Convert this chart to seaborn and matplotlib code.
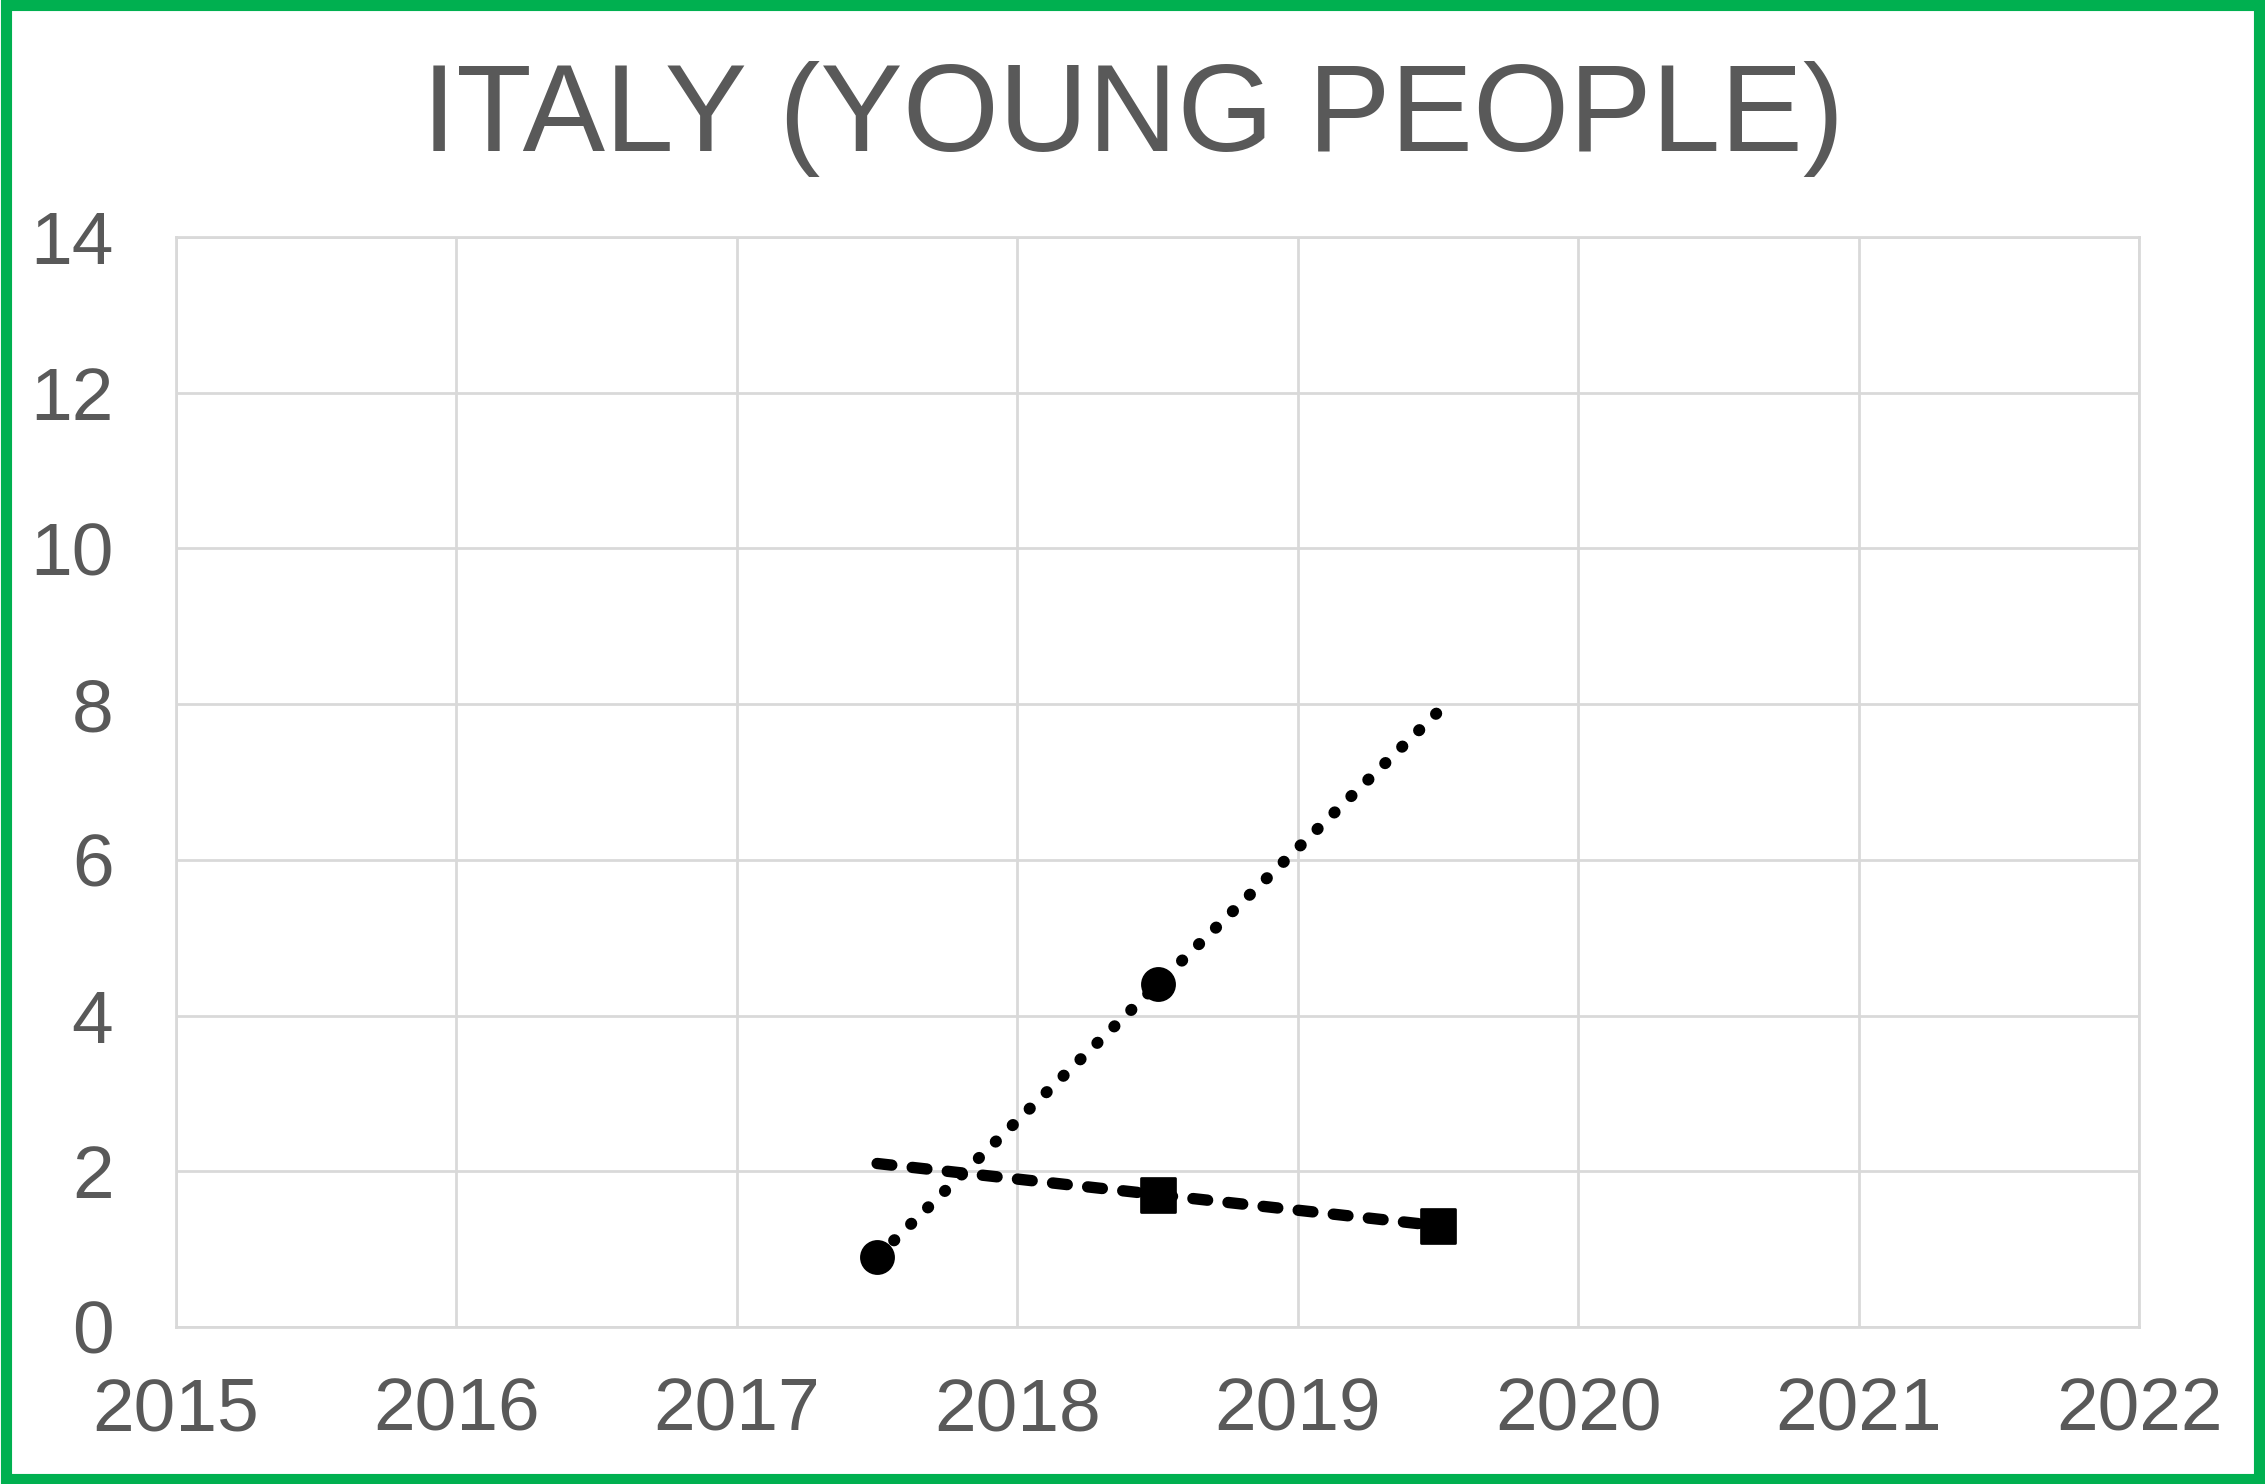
import numpy as np
import pandas as pd
import matplotlib
matplotlib.use("Agg")
import matplotlib.pyplot as plt
import seaborn as sns

# dados
anos_circ = [2017.5, 2018.5]
vals_circ = [0.9, 4.4]
anos_quad = [2018.5, 2019.5]
vals_quad = [1.7, 1.3]
anos_tendencia = [2017.5, 2019.5]

titulo = "ITALY (YOUNG PEOPLE)"
x_ticks = [2015, 2016, 2017, 2018, 2019, 2020, 2021, 2022]
y_ticks = [0, 2, 4, 6, 8, 10, 12, 14]

cinza = "#595959"
grade = "#D9D9D9"

sns.set_style("white")
plt.rcParams["font.family"] = ["Liberation Sans", "DejaVu Sans"]

fig = plt.figure(figsize=(22.65, 14.84), dpi=100)
ax = fig.add_axes([0.0777, 0.1058, 0.8667, 0.7345])

# linhas de tendência (ajuste linear sobre os pontos)
c1 = np.polyfit(anos_circ, vals_circ, 1)
c2 = np.polyfit(anos_quad, vals_quad, 1)
tend = pd.DataFrame({
    "x": anos_tendencia,
    "y1": np.polyval(c1, anos_tendencia),
    "y2": np.polyval(c2, anos_tendencia),
})
ax.plot(tend["x"], tend["y1"], color="black", linewidth=8.5,
        linestyle=(0, (0.05, 1.95)), dash_capstyle="round", zorder=3)
ax.plot(tend["x"], tend["y2"], color="black", linewidth=8.2,
        linestyle=(0, (1.3, 1.8)), dash_capstyle="round", zorder=3)

df_c = pd.DataFrame({"ano": anos_circ, "valor": vals_circ})
df_q = pd.DataFrame({"ano": anos_quad, "valor": vals_quad})
sns.scatterplot(data=df_c, x="ano", y="valor", marker="o", s=540,
                color="black", edgecolor="black", ax=ax, zorder=4)
sns.scatterplot(data=df_q, x="ano", y="valor", marker="s", s=580,
                color="black", edgecolor="black", ax=ax, zorder=4)

ax.set_xlim(2015, 2022)
ax.set_ylim(0, 14)
ax.set_xticks(x_ticks)
ax.set_yticks(y_ticks)
ax.set_xlabel("")
ax.set_ylabel("")
ax.grid(True, color=grade, linewidth=2)
for s in ax.spines.values():
    s.set_color(grade)
    s.set_linewidth(2)
ax.tick_params(axis="both", length=0, labelsize=54, colors=cinza)
ax.tick_params(axis="x", pad=36)
ax.tick_params(axis="y", pad=45)

fig.text(0.5, 0.92, titulo, ha="center", va="center", fontsize=89, color=cinza)

# moldura verde
fig.patches.append(plt.Rectangle((0.0025, 0.0035), 0.995, 0.993, transform=fig.transFigure,
                                 fill=False, edgecolor="#00B050", linewidth=8))

fig.savefig("out.png", dpi=100, facecolor="white")
